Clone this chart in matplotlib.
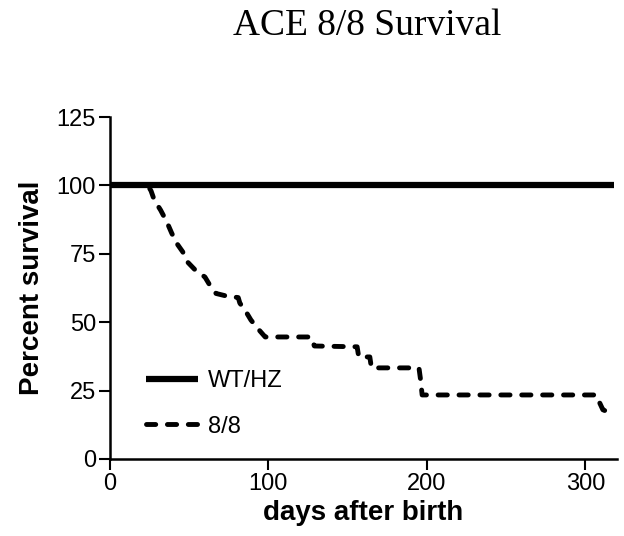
import matplotlib
matplotlib.use("Agg")
import matplotlib.pyplot as plt

# WT/HZ survival (no deaths)
wt_days = [0, 318]
wt_surv = [100, 100]

# 8/8 survival curve vertices
ko_days = [0, 24, 26, 28, 32, 36, 39, 42, 46, 49, 54, 60, 63, 67, 74, 81,
           82, 86, 89, 93, 98, 127, 129, 156, 157, 164, 165, 195, 196, 197,
           307, 309, 311, 313]
ko_surv = [100, 100, 98, 94.7, 91, 86.6, 82.6, 79, 75.7, 72, 69, 66.5, 63.6, 60.5, 59.5, 59,
           57, 53.7, 50.8, 47.9, 44.6, 44.6, 41.3, 41, 37.3, 37.3, 33.3, 33.3, 29, 23.4,
           23.4, 20.5, 18, 17.5]

x_ticks = [0, 100, 200, 300]
y_ticks = [0, 25, 50, 75, 100, 125]

plt.rcParams['font.family'] = ['Liberation Sans', 'DejaVu Sans']

fig = plt.figure(figsize=(6.24, 5.36), dpi=100)
ax = fig.add_axes([0.176, 0.1437, 0.813, 0.638])

ax.plot(wt_days, wt_surv, color='black', lw=4.5, solid_capstyle='butt', label='WT/HZ')
ax.plot(ko_days, ko_surv, color='black', lw=3.5, linestyle=(0, (1.9, 2.4)),
        dash_capstyle='round', solid_joinstyle='round', label='8/8')

ax.set_xlim(0, 320)
ax.set_ylim(0, 125)
ax.set_xticks(x_ticks)
ax.set_yticks(y_ticks)
for s in ['top', 'right']:
    ax.spines[s].set_visible(False)
for s in ['left', 'bottom']:
    ax.spines[s].set_linewidth(1.8)
ax.tick_params(axis='both', direction='out', length=8, width=1.5, labelsize=17, pad=2)

ax.set_xlabel('days after birth', fontsize=20, fontweight='bold', labelpad=4)
ax.set_ylabel('Percent survival', fontsize=20, fontweight='bold', labelpad=8)

leg = ax.legend(loc='lower left', bbox_to_anchor=(0.03, 0.0), frameon=False,
                fontsize=17, handlelength=2.2, labelspacing=1.0, handletextpad=0.4)

fig.text(0.588, 0.952, 'ACE 8/8 Survival', ha='center', va='center',
         fontsize=27, family=['Liberation Serif', 'DejaVu Serif'])

fig.savefig('out.png', dpi=100)
